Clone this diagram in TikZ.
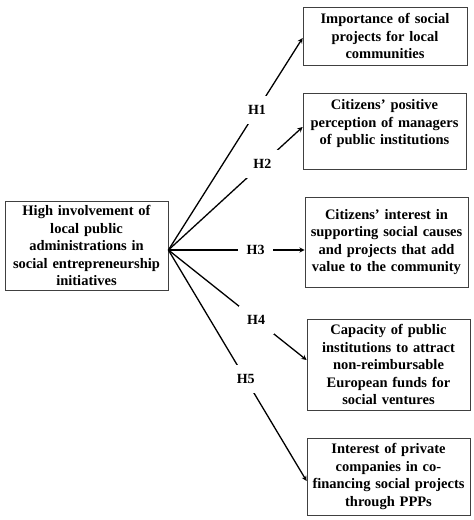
\documentclass[tikz,border=0pt]{standalone}
\usepackage{fontspec}
\setmainfont{Liberation Serif}

\begin{document}
\begin{tikzpicture}[x=1pt,y=-1pt,>=stealth,
    hyp/.style={draw=black!75,line width=0.8pt,align=center,inner sep=2pt,
      font=\fontsize{14.5}{17.5}\selectfont\bfseries},
    lbl/.style={fill=white,minimum width=35pt,minimum height=28pt,inner sep=0pt,
      font=\fontsize{14}{15}\selectfont\bfseries},
    link/.style={->,line width=1.3pt}]
  \useasboundingbox (0,0) rectangle (474,520);
  \node[hyp,text width=159pt,minimum height=89pt] at (86.5,245.5) (inv) {High involvement of\\local public\\administrations in\\social entrepreneurship\\initiatives};
  \node[hyp,text width=160pt,minimum height=58pt] at (385,36) (imp) {Importance of social\\projects for local\\communities};
  \node[hyp,text width=159pt,minimum height=76pt] at (384.5,131) (perc) {Citizens’ positive\\perception of managers\\of public institutions\\\mbox{}};
  \node[hyp,text width=159pt,minimum height=90pt] at (386.5,242) (intr) {Citizens’ interest in\\supporting social causes\\and projects that add\\value to the community};
  \node[hyp,text width=159pt,minimum height=91pt] at (388.5,364.5) (cap) {Capacity of public\\institutions to attract\\non-reimbursable\\European funds for\\social ventures};
  \node[hyp,text width=159pt,minimum height=77pt] at (388.5,476.5) (priv) {Interest of private\\companies in co-\\financing social projects\\through PPPs};
  \draw[link] ([yshift=-4.5pt]inv.east) -- node[lbl,pos=0.66] {H1} ([yshift=-2pt]imp.west);
  \draw[link] ([yshift=-4.5pt]inv.east) -- node[lbl,pos=0.70] {H2} ([yshift=4pt]perc.west);
  \draw[link] ([yshift=-4.5pt]inv.east) -- node[lbl,pos=0.64] {H3} ([yshift=-8pt]intr.west);
  \draw[link] ([yshift=-4.5pt]inv.east) -- node[lbl,pos=0.635] {H4} ([yshift=4.5pt]cap.west);
  \draw[link] ([yshift=-4.5pt]inv.east) -- node[lbl,pos=0.56] {H5} ([yshift=-4.5pt]priv.west);
\end{tikzpicture}
\end{document}
